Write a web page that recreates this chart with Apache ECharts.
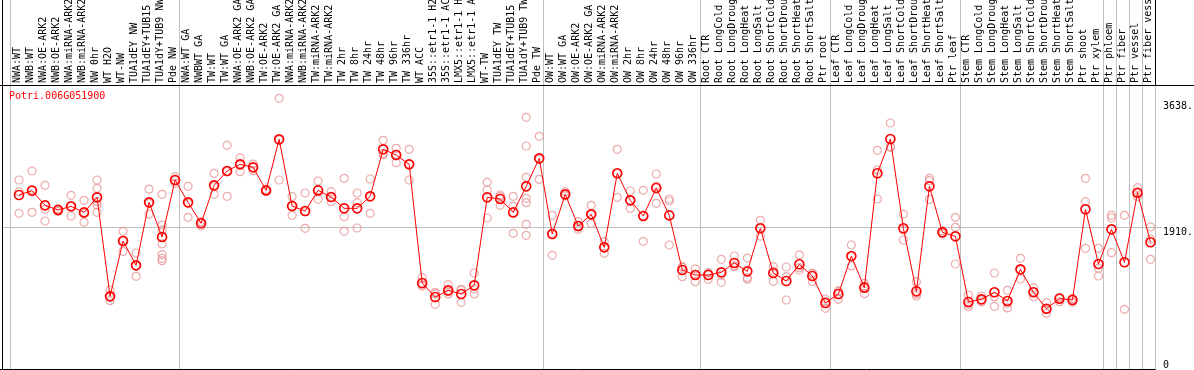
<!DOCTYPE html>
<html><head><meta charset="utf-8">
<script src="https://cdn.jsdelivr.net/npm/echarts@6/dist/echarts.min.js"></script>
<style>html,body{margin:0;padding:0;background:#fff}#c{width:1194px;height:370px}</style>
</head><body><div id="c"></div>
<script>
const geneName = 'Potri.006G051900';
const categories = [
  'NWA:WT','NWB:WT','NWA:OE-ARK2','NWB:OE-ARK2','NWA:miRNA-ARK2','NWB:miRNA-ARK2','NW 0hr','WT H2O','WT-NW','TUA1dEY NW','TUA1dEY+TUB15 NW','TUA1dY+TUB9 NW','Pde NW',
  'NWA:WT GA','NWBWT GA','TW:WT','TW:WT GA','NWA:OE-ARK2 GA','NWB:OE-ARK2 GA','TW:OE-ARK2','TW:OE-ARK2 GA','NWA:miRNA-ARK2','NWB:miRNA-ARK2','TW:miRNA-ARK2','TW:miRNA-ARK2',
  'TW 2hr','TW 8hr','TW 24hr','TW 48hr','TW 96hr','TW 336hr','WT ACC','35S::etr1-1 H2O','35S::etr1-1 ACC','LMX5::etr1-1 H2O','LMX5::etr1-1 ACC','WT-TW','TUA1dEY TW','TUA1dEY+TUB15 TW','TUA1dY+TUB9 TW','Pde TW',
  'OW:WT','OW:WT GA','OW:OE-ARK2','OW:OE-ARK2 GA','OW:miRNA-ARK2','OW:miRNA-ARK2','OW 2hr','OW 8hr','OW 24hr','OW 48hr','OW 96hr','OW 336hr',
  'Root CTR','Root LongCold','Root LongDrought','Root LongHeat','Root LongSalt','Root ShortCold','Root ShortDrought','Root ShortHeat','Root ShortSalt','Ptr root',
  'Leaf CTR','Leaf LongCold','Leaf LongDrought','Leaf LongHeat','Leaf LongSalt','Leaf ShortCold','Leaf ShortDrought','Leaf ShortHeat','Leaf ShortSalt','Ptr leaf',
  'Stem CTR','Stem LongCold','Stem LongDrought','Stem LongHeat','Stem LongSalt','Stem ShortCold','Stem ShortDrought','Stem ShortHeat','Stem ShortSalt','Ptr shoot','Ptr xylem',
  'Ptr phloem','Ptr fiber','Ptr vessel','Ptr fiber vessel'
];
const groupBoundaries = [0, 13, 41, 53, 63, 73, 84, 85, 86, 87, 88];
const meanValues = [
  2346, 2404, 2208, 2146, 2195, 2114, 2315, 992, 1731, 1406,
  2248, 1785, 2546, 2248, 1968, 2475, 2667, 2756, 2716, 2408,
  3090, 2199, 2132, 2408, 2319, 2168, 2168, 2328, 2956, 2880,
  2756, 1170, 983, 1072, 1023, 1139, 2315, 2293, 2114, 2462,
  2836, 1825, 2355, 1932, 2088, 1647, 2636, 2275, 2066, 2440,
  2074, 1344, 1277, 1277, 1313, 1438, 1326, 1901, 1304, 1197,
  1420, 1264, 903, 1023, 1531, 1108, 2636, 3094, 1901, 1059,
  2462, 1847, 1794, 917, 952, 1046, 930, 1353, 1046, 827,
  961, 943, 2155, 1424, 1887, 1447, 2377, 1714
];
const replicateValues = [
  [2547,2391,2101],[2667,2422,2115],[2475,2155,1999],[2164,2146,2128],[2342,2190,2066],
  [2275,2101,1981],[2547,2435,2257,2213,2115],[1077,988,934],[1861,1736,1594],[1571,1398,1260],
  [2426,2235,2092],[2355,1945,1879,1692,1549,1500,1469],[2591,2547,2502],[2462,2235,2048],[1990,1968,1932],
  [2636,2458,2355],[3010,2658,2328],[2841,2760,2658],[2760,2716,2671],[2422,2408,2395],
  [3638,3081,2547],[2324,2199,2075],[2373,2124,1901],[2533,2413,2288],[2391,2315,2257],
  [2569,2057,1861],[2373,2244,1905],[2560,2324,2101],[3077,2903,2885],[2970,2890,2778],
  [2956,2760,2547],[1242,1144,1130],[1046,1024,885],[1148,1055,1024],[1086,1077,912],
  [1304,1090,1024],[2515,2413,2039],[2346,2324,2208],[2328,2195,1834],[3384,3001,2582,2302,2244,1954,1807],
  [3130,2823,2555],[2075,1834,1540],[2391,2346,2333],[1990,1923,1887],[2208,2088,1968],
  [1723,1647,1567],[2956,2636,2315],[2400,2279,2168],[2409,2066,1727],[2627,2466,2235],
  [2293,2266,1678],[1389,1380,1255],[1358,1286,1188],[1309,1300,1219],[1487,1277,1179],
  [1531,1398,1389],[1504,1242,1219],[2008,1901,1798],[1389,1331,1193],[1384,1255,943],
  [1545,1375,1344],[1300,1300,1188],[957,921,832],[1064,1055,952],[1678,1522,1398],
  [1166,1130,1028],[2943,2680,2293],[3308,2992,2983],[2088,1879,1745],[1188,1024,997],
  [2569,2538,2288],[1870,1843,1825],[2048,1914,1424],[1010,885,854],[997,943,917],
  [1304,988,859],[1073,899,837],[1500,1344,1224],[1108,1055,988],[908,819,765],
  [979,979,921],[966,952,912],[2569,2257,1634],[1634,1366,1264],[2075,2039,1576],
  [2075,819],[2444,2368,2324],[1919,1758,1487]
];
const yTickValues = [0, 1910, 3638];
const yTickLabels = ['0', '1910.', '3638.'];
const yGridValues = [1910];
const yAxisMax = 3816;

const FONT = 'DejaVu Sans Mono';
const PLOT_TOP = 85, PLOT_H = 285.6;

const repPoints = [];
replicateValues.forEach((arr, i) => arr.forEach(v => repPoints.push([i, v])));

const chart = echarts.init(document.getElementById('c'), null, {renderer: 'canvas'});
const gridBase = {containLabel: false, outerBoundsMode: 'none'};
chart.setOption({
  animation: false,
  backgroundColor: '#fff',
  title: {
    text: geneName, left: 9, top: 91, padding: 0,
    textStyle: {color: '#ff0000', fontSize: 10, fontFamily: FONT, fontWeight: 'normal'}
  },
  grid: [
    Object.assign({left: 10.5, top: PLOT_TOP, width: 1144.5, height: PLOT_H}, gridBase),
    Object.assign({left: 10.5, top: 0, width: 1144.5, height: 370}, gridBase),
    Object.assign({left: 12.5, top: PLOT_TOP, width: 1144.5, height: PLOT_H}, gridBase),
    Object.assign({left: 2, top: PLOT_TOP, width: 1160, height: PLOT_H}, gridBase)
  ],
  xAxis: [
    {gridIndex: 0, type: 'category', data: categories, position: 'top', boundaryGap: true,
     axisLine: {show: false}, axisTick: {show: false}, splitLine: {show: false},
     axisLabel: {interval: 0, rotate: 90, margin: 2, fontSize: 10, fontFamily: FONT, color: '#000', hideOverlap: false}},
    {gridIndex: 1, type: 'value', min: 0, max: 88,
     axisLine: {show: false}, axisLabel: {show: false},
     axisTick: {show: false, customValues: groupBoundaries},
     splitLine: {show: true, lineStyle: {color: '#c0c0c0', width: 1}}},
    {gridIndex: 2, type: 'category', data: categories, boundaryGap: true, show: false},
    {gridIndex: 3, type: 'value', min: 0, max: 1, show: false}
  ],
  yAxis: [
    {gridIndex: 0, type: 'value', min: 0, max: yAxisMax, show: false},
    {gridIndex: 1, type: 'value', min: 0, max: 1, show: false},
    {gridIndex: 2, type: 'value', min: 0, max: yAxisMax, position: 'right',
     axisLine: {show: false}, axisTick: {show: false, customValues: yTickValues}, splitLine: {show: false},
     axisLabel: {
       customValues: yTickValues, margin: 6, align: 'left', verticalAlign: 'top',
       verticalAlignMinLabel: 'bottom',
       fontSize: 10, fontFamily: FONT, color: '#000',
       formatter: v => {
         const k = yTickValues.indexOf(v);
         const t = k >= 0 ? yTickLabels[k] : '';
         return v === yTickValues[yTickValues.length - 1] ? '{m|' + t + '}' : t;
       },
       rich: {m: {fontSize: 10, fontFamily: FONT, color: '#000', padding: [3, 0, 0, 0]}}
     }},
    {gridIndex: 3, type: 'value', min: 0, max: yAxisMax,
     axisLine: {show: false}, axisLabel: {show: false},
     axisTick: {show: false, customValues: yGridValues},
     splitLine: {show: true, lineStyle: {color: '#c0c0c0', width: 1}}}
  ],
  graphic: [
    {type: 'line', shape: {x1: 2.5, y1: 0, x2: 2.5, y2: 370}, style: {stroke: '#000', lineWidth: 1}, z: 10},
    {type: 'line', shape: {x1: 0, y1: 85.5, x2: 1194, y2: 85.5}, style: {stroke: '#000', lineWidth: 1}, z: 10},
    {type: 'line', shape: {x1: 0, y1: 369.5, x2: 1155.5, y2: 369.5}, style: {stroke: '#000', lineWidth: 1}, z: 10},
    {type: 'line', shape: {x1: 1155.5, y1: 0, x2: 1155.5, y2: 85}, style: {stroke: '#000', lineWidth: 1}, z: 10}
  ],
  series: [
    {type: 'scatter', xAxisIndex: 2, yAxisIndex: 2, data: repPoints,
     symbol: 'circle', symbolSize: 8,
     itemStyle: {color: 'rgba(0,0,0,0)', borderColor: '#e89696', borderWidth: 1.2}, z: 3},
    {type: 'line', xAxisIndex: 2, yAxisIndex: 2, data: meanValues,
     symbol: 'circle', symbolSize: 9, showAllSymbol: true,
     lineStyle: {color: '#ff0000', width: 1},
     itemStyle: {color: 'rgba(0,0,0,0)', borderColor: '#ff0000', borderWidth: 1.6}, z: 4}
  ]
});
</script>
</body></html>
